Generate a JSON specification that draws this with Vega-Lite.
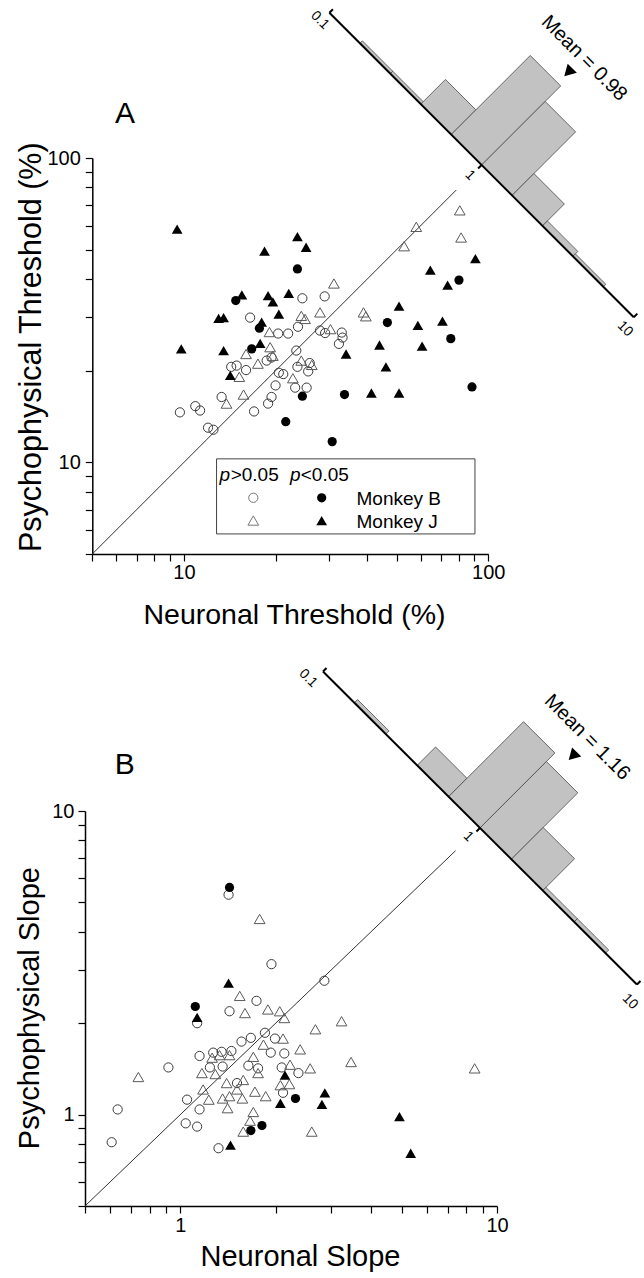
{
  "$schema": "https://vega.github.io/schema/vega-lite/v6.json",
  "background": "white",
  "padding": {"top": 5, "left": 15, "right": 2, "bottom": 2},
  "spacing": 34,
  "config": {
    "font": "Liberation Sans",
    "view": {"stroke": null},
    "axis": {"grid": false, "domainColor": "#000", "domainWidth": 1.5, "tickColor": "#000", "tickWidth": 1.2, "tickSize": 7, "labelColor": "#000", "labelFontSize": 20, "labelFont": "Liberation Sans", "titleFont": "Liberation Sans", "titleFontSize": 29, "titleFontWeight": "normal", "titleColor": "#000", "labelFlush": false, "labelOverlap": false, "labelBound": false},
    "text": {"font": "Liberation Sans"}
  },
  "datasets": {
    "A_diag": [{"v": 5}, {"v": 78.5}],
    "B_diag": [{"v": 0.5}, {"v": 7.4}],
    "A_pts": [
      {"x": 9.7, "y": 14.6, "m": "B", "s": "ns"}, {"x": 10.9, "y": 15.3, "m": "B", "s": "ns"}, {"x": 11.3, "y": 14.8, "m": "B", "s": "ns"}, {"x": 12.0, "y": 13.0, "m": "B", "s": "ns"}, {"x": 12.5, "y": 12.8, "m": "B", "s": "ns"}, {"x": 13.3, "y": 16.4, "m": "B", "s": "ns"}, {"x": 14.3, "y": 20.6, "m": "B", "s": "ns"}, {"x": 14.9, "y": 20.8, "m": "B", "s": "ns"}, {"x": 16.0, "y": 20.1, "m": "B", "s": "ns"}, {"x": 16.5, "y": 29.9, "m": "B", "s": "ns"}, {"x": 17.0, "y": 14.7, "m": "B", "s": "ns"}, {"x": 18.9, "y": 15.6, "m": "B", "s": "ns"}, {"x": 19.4, "y": 16.4, "m": "B", "s": "ns"}, {"x": 20.0, "y": 17.9, "m": "B", "s": "ns"}, {"x": 20.5, "y": 19.7, "m": "B", "s": "ns"}, {"x": 21.2, "y": 19.5, "m": "B", "s": "ns"}, {"x": 20.4, "y": 26.5, "m": "B", "s": "ns"}, {"x": 22.0, "y": 26.5, "m": "B", "s": "ns"}, {"x": 23.2, "y": 17.6, "m": "B", "s": "ns"}, {"x": 23.6, "y": 20.6, "m": "B", "s": "ns"}, {"x": 25.3, "y": 17.6, "m": "B", "s": "ns"}, {"x": 25.6, "y": 19.9, "m": "B", "s": "ns"}, {"x": 25.9, "y": 21.2, "m": "B", "s": "ns"}, {"x": 24.5, "y": 34.6, "m": "B", "s": "ns"}, {"x": 29.0, "y": 35.1, "m": "B", "s": "ns"}, {"x": 23.7, "y": 27.9, "m": "B", "s": "ns"}, {"x": 23.4, "y": 23.3, "m": "B", "s": "ns"}, {"x": 18.7, "y": 21.6, "m": "B", "s": "ns"}, {"x": 19.4, "y": 22.1, "m": "B", "s": "ns"}, {"x": 28.0, "y": 27.1, "m": "B", "s": "ns"}, {"x": 29.1, "y": 26.6, "m": "B", "s": "ns"}, {"x": 33.0, "y": 26.7, "m": "B", "s": "ns"}, {"x": 33.2, "y": 25.7, "m": "B", "s": "ns"}, {"x": 32.3, "y": 24.5, "m": "B", "s": "ns"},
      {"x": 13.8, "y": 15.6, "m": "J", "s": "ns"}, {"x": 15.7, "y": 16.7, "m": "J", "s": "ns"}, {"x": 15.2, "y": 19.1, "m": "J", "s": "ns"}, {"x": 16.0, "y": 22.7, "m": "J", "s": "ns"}, {"x": 17.5, "y": 21.1, "m": "J", "s": "ns"}, {"x": 19.1, "y": 26.8, "m": "J", "s": "ns"}, {"x": 19.2, "y": 23.9, "m": "J", "s": "ns"}, {"x": 19.6, "y": 22.4, "m": "J", "s": "ns"}, {"x": 22.8, "y": 18.9, "m": "J", "s": "ns"}, {"x": 24.3, "y": 30.3, "m": "J", "s": "ns"}, {"x": 25.0, "y": 29.6, "m": "J", "s": "ns"}, {"x": 24.3, "y": 21.6, "m": "J", "s": "ns"}, {"x": 26.3, "y": 20.9, "m": "J", "s": "ns"}, {"x": 28.0, "y": 31.1, "m": "J", "s": "ns"}, {"x": 31.1, "y": 38.7, "m": "J", "s": "ns"}, {"x": 30.3, "y": 27.4, "m": "J", "s": "ns"}, {"x": 38.9, "y": 31.1, "m": "J", "s": "ns"}, {"x": 39.6, "y": 30.2, "m": "J", "s": "ns"}, {"x": 52.9, "y": 51.3, "m": "J", "s": "ns"}, {"x": 58.0, "y": 59.4, "m": "J", "s": "ns"}, {"x": 80.6, "y": 67.3, "m": "J", "s": "ns"}, {"x": 81.4, "y": 54.8, "m": "J", "s": "ns"},
      {"x": 23.6, "y": 43.2, "m": "B", "s": "sig"}, {"x": 14.8, "y": 34.0, "m": "B", "s": "sig"}, {"x": 17.7, "y": 27.6, "m": "B", "s": "sig"}, {"x": 16.7, "y": 23.6, "m": "B", "s": "sig"}, {"x": 24.5, "y": 16.5, "m": "B", "s": "sig"}, {"x": 33.7, "y": 16.7, "m": "B", "s": "sig"}, {"x": 21.6, "y": 13.6, "m": "B", "s": "sig"}, {"x": 30.7, "y": 11.7, "m": "B", "s": "sig"}, {"x": 46.6, "y": 28.8, "m": "B", "s": "sig"}, {"x": 80.1, "y": 39.7, "m": "B", "s": "sig"}, {"x": 75.3, "y": 25.5, "m": "B", "s": "sig"}, {"x": 88.4, "y": 17.7, "m": "B", "s": "sig"},
      {"x": 9.5, "y": 58.4, "m": "J", "s": "sig"}, {"x": 9.8, "y": 23.6, "m": "J", "s": "sig"}, {"x": 13.0, "y": 29.7, "m": "J", "s": "sig"}, {"x": 13.5, "y": 29.9, "m": "J", "s": "sig"}, {"x": 15.5, "y": 35.5, "m": "J", "s": "sig"}, {"x": 13.5, "y": 23.3, "m": "J", "s": "sig"}, {"x": 14.2, "y": 19.3, "m": "J", "s": "sig"}, {"x": 18.4, "y": 49.4, "m": "J", "s": "sig"}, {"x": 18.0, "y": 28.9, "m": "J", "s": "sig"}, {"x": 17.8, "y": 24.6, "m": "J", "s": "sig"}, {"x": 18.9, "y": 35.3, "m": "J", "s": "sig"}, {"x": 19.6, "y": 33.7, "m": "J", "s": "sig"}, {"x": 20.5, "y": 30.7, "m": "J", "s": "sig"}, {"x": 22.1, "y": 35.9, "m": "J", "s": "sig"}, {"x": 23.6, "y": 55.2, "m": "J", "s": "sig"}, {"x": 25.2, "y": 50.9, "m": "J", "s": "sig"}, {"x": 34.1, "y": 22.7, "m": "J", "s": "sig"}, {"x": 43.9, "y": 24.3, "m": "J", "s": "sig"}, {"x": 46.1, "y": 20.6, "m": "J", "s": "sig"}, {"x": 41.3, "y": 16.9, "m": "J", "s": "sig"}, {"x": 50.9, "y": 16.9, "m": "J", "s": "sig"}, {"x": 50.9, "y": 32.6, "m": "J", "s": "sig"}, {"x": 58.7, "y": 28.2, "m": "J", "s": "sig"}, {"x": 60.6, "y": 24.1, "m": "J", "s": "sig"}, {"x": 70.7, "y": 29.1, "m": "J", "s": "sig"}, {"x": 64.5, "y": 42.8, "m": "J", "s": "sig"}, {"x": 73.5, "y": 38.2, "m": "J", "s": "sig"}, {"x": 90.7, "y": 46.7, "m": "J", "s": "sig"}
    ],
    "B_pts": [
      {"x": 1.94, "y": 3.13, "m": "B", "s": "ns"}, {"x": 2.85, "y": 2.76, "m": "B", "s": "ns"}, {"x": 1.74, "y": 2.37, "m": "B", "s": "ns"}, {"x": 1.43, "y": 2.19, "m": "B", "s": "ns"}, {"x": 1.13, "y": 2.0, "m": "B", "s": "ns"}, {"x": 1.15, "y": 1.56, "m": "B", "s": "ns"}, {"x": 0.917, "y": 1.43, "m": "B", "s": "ns"}, {"x": 0.634, "y": 1.04, "m": "B", "s": "ns"}, {"x": 0.607, "y": 0.811, "m": "B", "s": "ns"}, {"x": 1.05, "y": 1.12, "m": "B", "s": "ns"}, {"x": 1.15, "y": 1.04, "m": "B", "s": "ns"}, {"x": 1.04, "y": 0.936, "m": "B", "s": "ns"}, {"x": 1.13, "y": 0.913, "m": "B", "s": "ns"}, {"x": 1.32, "y": 0.775, "m": "B", "s": "ns"}, {"x": 1.56, "y": 1.74, "m": "B", "s": "ns"}, {"x": 1.67, "y": 1.79, "m": "B", "s": "ns"}, {"x": 1.85, "y": 1.86, "m": "B", "s": "ns"}, {"x": 1.99, "y": 1.78, "m": "B", "s": "ns"}, {"x": 1.27, "y": 1.6, "m": "B", "s": "ns"}, {"x": 1.35, "y": 1.61, "m": "B", "s": "ns"}, {"x": 1.45, "y": 1.62, "m": "B", "s": "ns"}, {"x": 1.93, "y": 1.6, "m": "B", "s": "ns"}, {"x": 2.13, "y": 1.59, "m": "B", "s": "ns"}, {"x": 1.36, "y": 1.44, "m": "B", "s": "ns"}, {"x": 1.64, "y": 1.45, "m": "B", "s": "ns"}, {"x": 1.76, "y": 1.42, "m": "B", "s": "ns"}, {"x": 2.09, "y": 1.43, "m": "B", "s": "ns"}, {"x": 2.36, "y": 1.37, "m": "B", "s": "ns"}, {"x": 1.24, "y": 1.43, "m": "B", "s": "ns"}, {"x": 1.51, "y": 1.27, "m": "B", "s": "ns"}, {"x": 2.11, "y": 1.18, "m": "B", "s": "ns"}, {"x": 1.42, "y": 5.3, "m": "B", "s": "ns"},
      {"x": 0.737, "y": 1.33, "m": "J", "s": "ns"}, {"x": 1.54, "y": 2.46, "m": "J", "s": "ns"}, {"x": 1.6, "y": 2.16, "m": "J", "s": "ns"}, {"x": 1.89, "y": 2.22, "m": "J", "s": "ns"}, {"x": 2.06, "y": 2.19, "m": "J", "s": "ns"}, {"x": 2.13, "y": 2.08, "m": "J", "s": "ns"}, {"x": 2.67, "y": 1.91, "m": "J", "s": "ns"}, {"x": 3.23, "y": 2.03, "m": "J", "s": "ns"}, {"x": 3.46, "y": 1.49, "m": "J", "s": "ns"}, {"x": 8.5, "y": 1.42, "m": "J", "s": "ns"}, {"x": 2.11, "y": 1.78, "m": "J", "s": "ns"}, {"x": 2.39, "y": 1.64, "m": "J", "s": "ns"}, {"x": 2.57, "y": 1.42, "m": "J", "s": "ns"}, {"x": 1.83, "y": 1.7, "m": "J", "s": "ns"}, {"x": 1.26, "y": 1.54, "m": "J", "s": "ns"}, {"x": 1.33, "y": 1.57, "m": "J", "s": "ns"}, {"x": 1.43, "y": 1.57, "m": "J", "s": "ns"}, {"x": 1.7, "y": 1.55, "m": "J", "s": "ns"}, {"x": 1.17, "y": 1.37, "m": "J", "s": "ns"}, {"x": 1.29, "y": 1.36, "m": "J", "s": "ns"}, {"x": 1.4, "y": 1.27, "m": "J", "s": "ns"}, {"x": 1.58, "y": 1.3, "m": "J", "s": "ns"}, {"x": 1.76, "y": 1.37, "m": "J", "s": "ns"}, {"x": 2.22, "y": 1.46, "m": "J", "s": "ns"}, {"x": 2.21, "y": 1.26, "m": "J", "s": "ns"}, {"x": 2.07, "y": 1.25, "m": "J", "s": "ns"}, {"x": 1.18, "y": 1.21, "m": "J", "s": "ns"}, {"x": 1.23, "y": 1.12, "m": "J", "s": "ns"}, {"x": 1.36, "y": 1.13, "m": "J", "s": "ns"}, {"x": 1.43, "y": 1.15, "m": "J", "s": "ns"}, {"x": 1.57, "y": 1.13, "m": "J", "s": "ns"}, {"x": 1.72, "y": 1.19, "m": "J", "s": "ns"}, {"x": 1.86, "y": 1.15, "m": "J", "s": "ns"}, {"x": 1.41, "y": 1.05, "m": "J", "s": "ns"}, {"x": 1.7, "y": 1.02, "m": "J", "s": "ns"}, {"x": 1.66, "y": 0.955, "m": "J", "s": "ns"}, {"x": 1.58, "y": 0.879, "m": "J", "s": "ns"}, {"x": 2.6, "y": 0.879, "m": "J", "s": "ns"}, {"x": 1.51, "y": 1.21, "m": "J", "s": "ns"}, {"x": 1.78, "y": 4.41, "m": "J", "s": "ns"},
      {"x": 1.115, "y": 2.27, "m": "B", "s": "sig"}, {"x": 1.43, "y": 5.6, "m": "B", "s": "sig"}, {"x": 2.31, "y": 1.13, "m": "B", "s": "sig"}, {"x": 1.67, "y": 0.886, "m": "B", "s": "sig"}, {"x": 1.81, "y": 0.92, "m": "B", "s": "sig"},
      {"x": 1.42, "y": 2.71, "m": "J", "s": "sig"}, {"x": 1.13, "y": 2.09, "m": "J", "s": "sig"}, {"x": 2.14, "y": 1.35, "m": "J", "s": "sig"}, {"x": 2.07, "y": 1.09, "m": "J", "s": "sig"}, {"x": 2.86, "y": 1.18, "m": "J", "s": "sig"}, {"x": 2.8, "y": 1.08, "m": "J", "s": "sig"}, {"x": 4.92, "y": 0.985, "m": "J", "s": "sig"}, {"x": 5.34, "y": 0.746, "m": "J", "s": "sig"}, {"x": 1.44, "y": 0.794, "m": "J", "s": "sig"}
    ],
    "A_leg": [
      {"x": 16.9, "y": 7.65, "m": "B", "s": "ns"}, {"x": 28.35, "y": 7.65, "m": "B", "s": "sig"},
      {"x": 16.9, "y": 6.44, "m": "J", "s": "ns"}, {"x": 28.35, "y": 6.44, "m": "J", "s": "sig"}
    ],
    "A_box": [{"x": 12.8, "x2": 90.4, "y": 5.82, "y2": 10.27}],
    "A_txt": [
      {"x": 13.1, "y": 8.71, "t": "p", "f": "i"}, {"x": 14.24, "y": 8.71, "t": ">0.05", "f": "n"},
      {"x": 22.3, "y": 8.71, "t": "p", "f": "i"}, {"x": 24.2, "y": 8.71, "t": "<0.05", "f": "n"},
      {"x": 36.9, "y": 7.22, "t": "Monkey B", "f": "n"}, {"x": 36.9, "y": 6.08, "t": "Monkey J", "f": "n"}
    ],
    "A_lab": [{"x": 6.4, "y": 130.8, "t": "A"}],
    "B_lab": [{"x": 0.667, "y": 13.2, "t": "B"}],
    "A_bars": [
      {"bar": -4, "i": 0, "hx": 1.578, "hy": 2.377}, {"bar": -4, "i": 1, "hx": 1.5861, "hy": 2.3851}, {"bar": -4, "i": 2, "hx": 1.6861, "hy": 2.2851}, {"bar": -4, "i": 3, "hx": 1.678, "hy": 2.277}, {"bar": -4, "i": 4, "hx": 1.578, "hy": 2.377},
      {"bar": -3, "i": 0, "hx": 1.678, "hy": 2.277}, {"bar": -3, "i": 1, "hx": 1.6861, "hy": 2.2851}, {"bar": -3, "i": 2, "hx": 1.7861, "hy": 2.1851}, {"bar": -3, "i": 3, "hx": 1.778, "hy": 2.177}, {"bar": -3, "i": 4, "hx": 1.678, "hy": 2.277},
      {"bar": -2, "i": 0, "hx": 1.778, "hy": 2.177}, {"bar": -2, "i": 1, "hx": 1.8592, "hy": 2.2582}, {"bar": -2, "i": 2, "hx": 1.9592, "hy": 2.1582}, {"bar": -2, "i": 3, "hx": 1.878, "hy": 2.077}, {"bar": -2, "i": 4, "hx": 1.778, "hy": 2.177},
      {"bar": -1, "i": 0, "hx": 1.878, "hy": 2.077}, {"bar": -1, "i": 1, "hx": 2.1378, "hy": 2.3368}, {"bar": -1, "i": 2, "hx": 2.2378, "hy": 2.2368}, {"bar": -1, "i": 3, "hx": 1.978, "hy": 1.977}, {"bar": -1, "i": 4, "hx": 1.878, "hy": 2.077},
      {"bar": 0, "i": 0, "hx": 1.978, "hy": 1.977}, {"bar": 0, "i": 1, "hx": 2.1868, "hy": 2.1858}, {"bar": 0, "i": 2, "hx": 2.2868, "hy": 2.0858}, {"bar": 0, "i": 3, "hx": 2.078, "hy": 1.877}, {"bar": 0, "i": 4, "hx": 1.978, "hy": 1.977},
      {"bar": 1, "i": 0, "hx": 2.078, "hy": 1.877}, {"bar": 1, "i": 1, "hx": 2.1499, "hy": 1.9489}, {"bar": 1, "i": 2, "hx": 2.2499, "hy": 1.8489}, {"bar": 1, "i": 3, "hx": 2.178, "hy": 1.777}, {"bar": 1, "i": 4, "hx": 2.078, "hy": 1.877},
      {"bar": 2, "i": 0, "hx": 2.178, "hy": 1.777}, {"bar": 2, "i": 1, "hx": 2.1942, "hy": 1.7932}, {"bar": 2, "i": 2, "hx": 2.2942, "hy": 1.6932}, {"bar": 2, "i": 3, "hx": 2.278, "hy": 1.677}, {"bar": 2, "i": 4, "hx": 2.178, "hy": 1.777},
      {"bar": 3, "i": 0, "hx": 2.278, "hy": 1.677}, {"bar": 3, "i": 1, "hx": 2.2861, "hy": 1.6851}, {"bar": 3, "i": 2, "hx": 2.3861, "hy": 1.5851}, {"bar": 3, "i": 3, "hx": 2.378, "hy": 1.577}, {"bar": 3, "i": 4, "hx": 2.278, "hy": 1.677}
    ],
    "B_bars": [
      {"bar": -4, "i": 0, "hx": 0.5497, "hy": 1.3565}, {"bar": -4, "i": 1, "hx": 0.5597, "hy": 1.367}, {"bar": -4, "i": 2, "hx": 0.6588, "hy": 1.2639}, {"bar": -4, "i": 3, "hx": 0.6488, "hy": 1.2534}, {"bar": -4, "i": 4, "hx": 0.5497, "hy": 1.3565},
      {"bar": -2, "i": 0, "hx": 0.7479, "hy": 1.1503}, {"bar": -2, "i": 1, "hx": 0.806, "hy": 1.2109}, {"bar": -2, "i": 2, "hx": 0.9052, "hy": 1.1078}, {"bar": -2, "i": 3, "hx": 0.8471, "hy": 1.0472}, {"bar": -2, "i": 4, "hx": 0.7479, "hy": 1.1503},
      {"bar": -1, "i": 0, "hx": 0.8471, "hy": 1.0472}, {"bar": -1, "i": 1, "hx": 1.0838, "hy": 1.2941}, {"bar": -1, "i": 2, "hx": 1.1829, "hy": 1.191}, {"bar": -1, "i": 3, "hx": 0.9462, "hy": 0.9441}, {"bar": -1, "i": 4, "hx": 0.8471, "hy": 1.0472},
      {"bar": 0, "i": 0, "hx": 0.9462, "hy": 0.9441}, {"bar": 0, "i": 1, "hx": 1.1561, "hy": 1.163}, {"bar": 0, "i": 2, "hx": 1.2552, "hy": 1.0599}, {"bar": 0, "i": 3, "hx": 1.0453, "hy": 0.841}, {"bar": 0, "i": 4, "hx": 0.9462, "hy": 0.9441},
      {"bar": 1, "i": 0, "hx": 1.0453, "hy": 0.841}, {"bar": 1, "i": 1, "hx": 1.1458, "hy": 0.9458}, {"bar": 1, "i": 2, "hx": 1.245, "hy": 0.8427}, {"bar": 1, "i": 3, "hx": 1.1445, "hy": 0.7379}, {"bar": 1, "i": 4, "hx": 1.0453, "hy": 0.841},
      {"bar": 2, "i": 0, "hx": 1.1445, "hy": 0.7379}, {"bar": 2, "i": 1, "hx": 1.1545, "hy": 0.7484}, {"bar": 2, "i": 2, "hx": 1.2536, "hy": 0.6453}, {"bar": 2, "i": 3, "hx": 1.2436, "hy": 0.6348}, {"bar": 2, "i": 4, "hx": 1.1445, "hy": 0.7379},
      {"bar": 3, "i": 0, "hx": 1.2436, "hy": 0.6348}, {"bar": 3, "i": 1, "hx": 1.2536, "hy": 0.6453}, {"bar": 3, "i": 2, "hx": 1.3528, "hy": 0.5422}, {"bar": 3, "i": 3, "hx": 1.3428, "hy": 0.5317}, {"bar": 3, "i": 4, "hx": 1.2436, "hy": 0.6348}
    ],
    "A_haxis": [
      {"seg": "axis", "i": 0, "hx": 1.478, "hy": 2.477}, {"seg": "axis", "i": 1, "hx": 2.478, "hy": 1.477},
      {"seg": "t1", "i": 0, "hx": 1.478, "hy": 2.477}, {"seg": "t1", "i": 1, "hx": 1.4896, "hy": 2.4886},
      {"seg": "t2", "i": 0, "hx": 2.478, "hy": 1.477}, {"seg": "t2", "i": 1, "hx": 2.4896, "hy": 1.4886},
      {"seg": "t0", "i": 0, "hx": 1.978, "hy": 1.977}, {"seg": "t0", "i": 1, "hx": 1.9664, "hy": 1.9654}
    ],
    "B_haxis": [
      {"seg": "axis", "i": 0, "hx": 0.4505, "hy": 1.4596}, {"seg": "axis", "i": 1, "hx": 1.4419, "hy": 0.4286},
      {"seg": "t1", "i": 0, "hx": 0.4505, "hy": 1.4596}, {"seg": "t1", "i": 1, "hx": 0.4617, "hy": 1.4712},
      {"seg": "t2", "i": 0, "hx": 1.4419, "hy": 0.4286}, {"seg": "t2", "i": 1, "hx": 1.4531, "hy": 0.4402},
      {"seg": "t0", "i": 0, "hx": 0.9462, "hy": 0.9441}, {"seg": "t0", "i": 1, "hx": 0.935, "hy": 0.9325}
    ],
    "A_hlab": [{"hx": 1.447, "hy": 2.452, "t": "0.1"}, {"hx": 1.9398, "hy": 1.9425, "t": "1"}, {"hx": 2.449, "hy": 1.4388, "t": "10"}],
    "B_hlab": [{"hx": 0.4041, "hy": 1.4371, "t": "0.1"}, {"hx": 0.9093, "hy": 0.9154, "t": "1"}, {"hx": 1.4205, "hy": 0.3723, "t": "10"}],
    "A_mean": [{"hx": 2.2627, "hy": 2.2818, "tx": 2.315, "ty": 2.328, "t": "Mean = 0.98"}],
    "B_mean": [{"hx": 1.239, "hy": 1.1812, "tx": 1.285, "ty": 1.2428, "t": "Mean = 1.16"}]
  },
  "vconcat": [
    {
      "width": 404, "height": 396,
      "resolve": {"scale": {"x": "independent", "y": "independent"}},
      "layer": [
        {
          "layer": [
            {
              "data": {"name": "A_diag"},
              "mark": {"type": "line", "stroke": "#333", "strokeWidth": 1},
              "encoding": {
                "x": {"field": "v", "type": "quantitative", "scale": {"type": "log", "domain": [5, 100], "nice": false, "range": [7.3, 403.3]},
                  "axis": {"title": "Neuronal Threshold (%)", "titleFontSize": 28.5, "values": [5, 6, 7, 8, 9, 10, 20, 30, 40, 50, 60, 70, 80, 90, 100], "labelExpr": "datum.value == 10 ? '10' : datum.value == 100 ? '100' : ''", "labelPadding": 1.5, "titleX": 209, "titleY": 69, "titleBaseline": "alphabetic", "titleAlign": "center",
                    "encode": {"ticks": {"update": {"y2": {"signal": "datum.value == 10 || datum.value == 100 ? 7 : 4"}}}}}},
                "y": {"field": "v", "type": "quantitative", "scale": {"type": "log", "domain": [5, 100], "nice": false},
                  "axis": {"title": "Psychophysical Threshold (%)", "titleFontSize": 30.5, "offset": -7.3, "values": [5, 6, 7, 8, 9, 10, 20, 30, 40, 50, 60, 70, 80, 90, 100], "labelExpr": "datum.value == 10 ? '10' : datum.value == 100 ? '100' : ''", "labelPadding": 5, "titleX": -52.3, "titleY": 188.7, "titleAngle": -90, "titleBaseline": "alphabetic", "titleAlign": "center",
                    "encode": {"ticks": {"update": {"x2": {"signal": "datum.value == 10 || datum.value == 100 ? -7 : -4"}}}}}}
              }
            },
            {
              "data": {"name": "A_pts"},
              "transform": [{"filter": "datum.s == 'ns'"}],
              "mark": {"type": "point", "filled": false, "opacity": 1, "strokeWidth": 1},
              "encoding": {
                "x": {"field": "x", "type": "quantitative", "scale": {"type": "log", "domain": [5, 100], "nice": false, "range": [7.3, 403.3]}},
                "y": {"field": "y", "type": "quantitative", "scale": {"type": "log", "domain": [5, 100], "nice": false}},
                "shape": {"field": "m", "type": "nominal", "scale": {"domain": ["B", "J"], "range": ["circle", "triangle-up"]}, "legend": null},
                "size": {"field": "m", "type": "nominal", "scale": {"domain": ["B", "J"], "range": [85, 115]}, "legend": null},
                "color": {"field": "m", "type": "nominal", "scale": {"domain": ["B", "J"], "range": ["#3a3a3a", "#5a5a5a"]}, "legend": null}
              }
            },
            {
              "data": {"name": "A_pts"},
              "transform": [{"filter": "datum.s == 'sig'"}],
              "mark": {"type": "point", "filled": true, "opacity": 1, "fill": "#000", "stroke": null},
              "encoding": {
                "x": {"field": "x", "type": "quantitative", "scale": {"type": "log", "domain": [5, 100], "nice": false, "range": [7.3, 403.3]}},
                "y": {"field": "y", "type": "quantitative", "scale": {"type": "log", "domain": [5, 100], "nice": false}},
                "shape": {"field": "m", "type": "nominal", "scale": {"domain": ["B", "J"], "range": ["circle", "triangle-up"]}, "legend": null},
                "size": {"field": "m", "type": "nominal", "scale": {"domain": ["B", "J"], "range": [85, 115]}, "legend": null}
              }
            },
            {
              "data": {"name": "A_box"},
              "mark": {"type": "rect", "fill": "transparent", "stroke": "#444", "strokeWidth": 1},
              "encoding": {
                "x": {"field": "x", "type": "quantitative", "scale": {"type": "log", "domain": [5, 100], "nice": false, "range": [7.3, 403.3]}},
                "x2": {"field": "x2"},
                "y": {"field": "y", "type": "quantitative", "scale": {"type": "log", "domain": [5, 100], "nice": false}},
                "y2": {"field": "y2"}
              }
            },
            {
              "data": {"name": "A_leg"},
              "transform": [{"filter": "datum.s == 'ns'"}],
              "mark": {"type": "point", "filled": false, "opacity": 1, "strokeWidth": 1, "stroke": "#777"},
              "encoding": {
                "x": {"field": "x", "type": "quantitative", "scale": {"type": "log", "domain": [5, 100], "nice": false, "range": [7.3, 403.3]}},
                "y": {"field": "y", "type": "quantitative", "scale": {"type": "log", "domain": [5, 100], "nice": false}},
                "shape": {"field": "m", "type": "nominal", "scale": {"domain": ["B", "J"], "range": ["circle", "triangle-up"]}, "legend": null},
                "size": {"field": "m", "type": "nominal", "scale": {"domain": ["B", "J"], "range": [85, 115]}, "legend": null}
              }
            },
            {
              "data": {"name": "A_leg"},
              "transform": [{"filter": "datum.s == 'sig'"}],
              "mark": {"type": "point", "filled": true, "opacity": 1, "fill": "#000", "stroke": null},
              "encoding": {
                "x": {"field": "x", "type": "quantitative", "scale": {"type": "log", "domain": [5, 100], "nice": false, "range": [7.3, 403.3]}},
                "y": {"field": "y", "type": "quantitative", "scale": {"type": "log", "domain": [5, 100], "nice": false}},
                "shape": {"field": "m", "type": "nominal", "scale": {"domain": ["B", "J"], "range": ["circle", "triangle-up"]}, "legend": null},
                "size": {"field": "m", "type": "nominal", "scale": {"domain": ["B", "J"], "range": [85, 115]}, "legend": null}
              }
            },
            {
              "data": {"name": "A_txt"},
              "transform": [{"filter": "datum.f == 'n'"}],
              "mark": {"type": "text", "align": "left", "baseline": "alphabetic", "fontSize": 19, "color": "#000"},
              "encoding": {
                "x": {"field": "x", "type": "quantitative", "scale": {"type": "log", "domain": [5, 100], "nice": false, "range": [7.3, 403.3]}},
                "y": {"field": "y", "type": "quantitative", "scale": {"type": "log", "domain": [5, 100], "nice": false}},
                "text": {"field": "t"}
              }
            },
            {
              "data": {"name": "A_txt"},
              "transform": [{"filter": "datum.f == 'i'"}],
              "mark": {"type": "text", "align": "left", "baseline": "alphabetic", "fontSize": 19, "fontStyle": "italic", "color": "#000"},
              "encoding": {
                "x": {"field": "x", "type": "quantitative", "scale": {"type": "log", "domain": [5, 100], "nice": false, "range": [7.3, 403.3]}},
                "y": {"field": "y", "type": "quantitative", "scale": {"type": "log", "domain": [5, 100], "nice": false}},
                "text": {"field": "t"}
              }
            },
            {
              "data": {"name": "A_lab"},
              "mark": {"type": "text", "align": "center", "baseline": "alphabetic", "fontSize": 30, "color": "#000"},
              "encoding": {
                "x": {"field": "x", "type": "quantitative", "scale": {"type": "log", "domain": [5, 100], "nice": false, "range": [7.3, 403.3]}},
                "y": {"field": "y", "type": "quantitative", "scale": {"type": "log", "domain": [5, 100], "nice": false}},
                "text": {"field": "t"}
              }
            }
          ]
        },
        {
          "layer": [
            {
              "data": {"name": "A_bars"},
              "mark": {"type": "line", "fill": "#c2c2c2", "stroke": "#4a4a4a", "strokeWidth": 0.8},
              "encoding": {
                "x": {"field": "hx", "type": "quantitative", "scale": {"domain": [0.69897, 2], "nice": false, "zero": false, "range": [7.3, 403.3]}, "axis": null},
                "y": {"field": "hy", "type": "quantitative", "scale": {"domain": [0.69897, 2], "nice": false, "zero": false}, "axis": null},
                "detail": {"field": "bar", "type": "nominal"},
                "order": {"field": "i", "type": "quantitative"}
              }
            },
            {
              "data": {"name": "A_haxis"},
              "mark": {"type": "line", "stroke": "#000", "strokeWidth": 2},
              "encoding": {
                "x": {"field": "hx", "type": "quantitative", "scale": {"domain": [0.69897, 2], "nice": false, "zero": false, "range": [7.3, 403.3]}, "axis": null},
                "y": {"field": "hy", "type": "quantitative", "scale": {"domain": [0.69897, 2], "nice": false, "zero": false}, "axis": null},
                "detail": {"field": "seg", "type": "nominal"},
                "order": {"field": "i", "type": "quantitative"}
              }
            },
            {
              "data": {"name": "A_hlab"},
              "mark": {"type": "text", "angle": 45, "align": "center", "baseline": "middle", "fontSize": 14, "color": "#000"},
              "encoding": {
                "x": {"field": "hx", "type": "quantitative", "scale": {"domain": [0.69897, 2], "nice": false, "zero": false, "range": [7.3, 403.3]}, "axis": null},
                "y": {"field": "hy", "type": "quantitative", "scale": {"domain": [0.69897, 2], "nice": false, "zero": false}, "axis": null},
                "text": {"field": "t"}
              }
            },
            {
              "data": {"name": "A_mean"},
              "mark": {"type": "point", "shape": "triangle-down", "angle": 45, "filled": true, "fill": "#000", "stroke": null, "size": 170, "opacity": 1},
              "encoding": {
                "x": {"field": "hx", "type": "quantitative", "scale": {"domain": [0.69897, 2], "nice": false, "zero": false, "range": [7.3, 403.3]}, "axis": null},
                "y": {"field": "hy", "type": "quantitative", "scale": {"domain": [0.69897, 2], "nice": false, "zero": false}, "axis": null}
              }
            },
            {
              "data": {"name": "A_mean"},
              "mark": {"type": "text", "angle": 45, "align": "center", "baseline": "middle", "fontSize": 20, "color": "#000"},
              "encoding": {
                "x": {"field": "tx", "type": "quantitative", "scale": {"domain": [0.69897, 2], "nice": false, "zero": false, "range": [7.3, 403.3]}, "axis": null},
                "y": {"field": "ty", "type": "quantitative", "scale": {"domain": [0.69897, 2], "nice": false, "zero": false}, "axis": null},
                "text": {"field": "t"}
              }
            }
          ]
        }
      ]
    },
    {
      "width": 412, "height": 395,
      "resolve": {"scale": {"x": "independent", "y": "independent"}},
      "layer": [
        {
          "layer": [
            {
              "data": {"name": "B_diag"},
              "mark": {"type": "line", "stroke": "#333", "strokeWidth": 1},
              "encoding": {
                "x": {"field": "v", "type": "quantitative", "scale": {"type": "log", "domain": [0.5, 10], "nice": false},
                  "axis": {"title": "Neuronal Slope", "values": [0.5, 0.6, 0.7, 0.8, 0.9, 1, 2, 3, 4, 5, 6, 7, 8, 9, 10], "labelExpr": "datum.value == 1 ? '1' : datum.value == 10 ? '10' : ''", "labelPadding": 2, "titleX": 215, "titleY": 59, "titleBaseline": "alphabetic", "titleAlign": "center",
                    "encode": {"ticks": {"update": {"y2": {"signal": "datum.value == 1 || datum.value == 10 ? 7 : 4"}}}}}},
                "y": {"field": "v", "type": "quantitative", "scale": {"type": "log", "domain": [0.5, 10], "nice": false},
                  "axis": {"title": "Psychophysical Slope", "values": [0.5, 0.6, 0.7, 0.8, 0.9, 1, 2, 3, 4, 5, 6, 7, 8, 9, 10], "labelExpr": "datum.value == 1 ? '1' : datum.value == 10 ? '10' : ''", "labelPadding": 4, "titleX": -46.5, "titleY": 196.6, "titleAngle": -90, "titleBaseline": "alphabetic", "titleAlign": "center",
                    "encode": {"ticks": {"update": {"x2": {"signal": "datum.value == 1 || datum.value == 10 ? -7 : -4"}}}}}}
              }
            },
            {
              "data": {"name": "B_pts"},
              "transform": [{"filter": "datum.s == 'ns'"}],
              "mark": {"type": "point", "filled": false, "opacity": 1, "strokeWidth": 1},
              "encoding": {
                "x": {"field": "x", "type": "quantitative", "scale": {"type": "log", "domain": [0.5, 10], "nice": false}},
                "y": {"field": "y", "type": "quantitative", "scale": {"type": "log", "domain": [0.5, 10], "nice": false}},
                "shape": {"field": "m", "type": "nominal", "scale": {"domain": ["B", "J"], "range": ["circle", "triangle-up"]}, "legend": null},
                "size": {"field": "m", "type": "nominal", "scale": {"domain": ["B", "J"], "range": [85, 115]}, "legend": null},
                "color": {"field": "m", "type": "nominal", "scale": {"domain": ["B", "J"], "range": ["#3a3a3a", "#5a5a5a"]}, "legend": null}
              }
            },
            {
              "data": {"name": "B_pts"},
              "transform": [{"filter": "datum.s == 'sig'"}],
              "mark": {"type": "point", "filled": true, "opacity": 1, "fill": "#000", "stroke": null},
              "encoding": {
                "x": {"field": "x", "type": "quantitative", "scale": {"type": "log", "domain": [0.5, 10], "nice": false}},
                "y": {"field": "y", "type": "quantitative", "scale": {"type": "log", "domain": [0.5, 10], "nice": false}},
                "shape": {"field": "m", "type": "nominal", "scale": {"domain": ["B", "J"], "range": ["circle", "triangle-up"]}, "legend": null},
                "size": {"field": "m", "type": "nominal", "scale": {"domain": ["B", "J"], "range": [85, 115]}, "legend": null}
              }
            },
            {
              "data": {"name": "B_lab"},
              "mark": {"type": "text", "align": "center", "baseline": "alphabetic", "fontSize": 30, "color": "#000"},
              "encoding": {
                "x": {"field": "x", "type": "quantitative", "scale": {"type": "log", "domain": [0.5, 10], "nice": false}},
                "y": {"field": "y", "type": "quantitative", "scale": {"type": "log", "domain": [0.5, 10], "nice": false}},
                "text": {"field": "t"}
              }
            }
          ]
        },
        {
          "layer": [
            {
              "data": {"name": "B_bars"},
              "mark": {"type": "line", "fill": "#c2c2c2", "stroke": "#4a4a4a", "strokeWidth": 0.8},
              "encoding": {
                "x": {"field": "hx", "type": "quantitative", "scale": {"domain": [-0.30103, 1], "nice": false, "zero": false}, "axis": null},
                "y": {"field": "hy", "type": "quantitative", "scale": {"domain": [-0.30103, 1], "nice": false, "zero": false}, "axis": null},
                "detail": {"field": "bar", "type": "nominal"},
                "order": {"field": "i", "type": "quantitative"}
              }
            },
            {
              "data": {"name": "B_haxis"},
              "mark": {"type": "line", "stroke": "#000", "strokeWidth": 2},
              "encoding": {
                "x": {"field": "hx", "type": "quantitative", "scale": {"domain": [-0.30103, 1], "nice": false, "zero": false}, "axis": null},
                "y": {"field": "hy", "type": "quantitative", "scale": {"domain": [-0.30103, 1], "nice": false, "zero": false}, "axis": null},
                "detail": {"field": "seg", "type": "nominal"},
                "order": {"field": "i", "type": "quantitative"}
              }
            },
            {
              "data": {"name": "B_hlab"},
              "mark": {"type": "text", "angle": 45, "align": "center", "baseline": "middle", "fontSize": 14, "color": "#000"},
              "encoding": {
                "x": {"field": "hx", "type": "quantitative", "scale": {"domain": [-0.30103, 1], "nice": false, "zero": false}, "axis": null},
                "y": {"field": "hy", "type": "quantitative", "scale": {"domain": [-0.30103, 1], "nice": false, "zero": false}, "axis": null},
                "text": {"field": "t"}
              }
            },
            {
              "data": {"name": "B_mean"},
              "mark": {"type": "point", "shape": "triangle-down", "angle": 45, "filled": true, "fill": "#000", "stroke": null, "size": 170, "opacity": 1},
              "encoding": {
                "x": {"field": "hx", "type": "quantitative", "scale": {"domain": [-0.30103, 1], "nice": false, "zero": false}, "axis": null},
                "y": {"field": "hy", "type": "quantitative", "scale": {"domain": [-0.30103, 1], "nice": false, "zero": false}, "axis": null}
              }
            },
            {
              "data": {"name": "B_mean"},
              "mark": {"type": "text", "angle": 45, "align": "center", "baseline": "middle", "fontSize": 20, "color": "#000"},
              "encoding": {
                "x": {"field": "tx", "type": "quantitative", "scale": {"domain": [-0.30103, 1], "nice": false, "zero": false}, "axis": null},
                "y": {"field": "ty", "type": "quantitative", "scale": {"domain": [-0.30103, 1], "nice": false, "zero": false}, "axis": null},
                "text": {"field": "t"}
              }
            }
          ]
        }
      ]
    }
  ]
}
